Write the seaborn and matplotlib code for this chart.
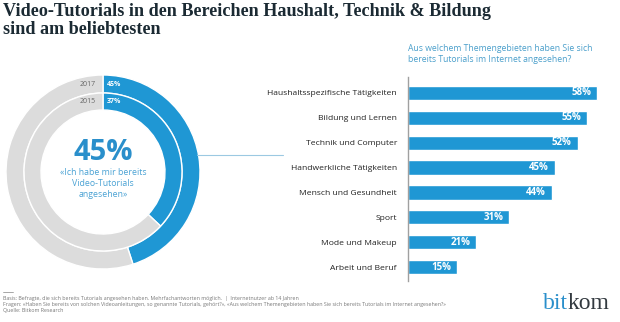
import matplotlib
matplotlib.use("Agg")
import matplotlib.pyplot as plt
import seaborn as sns
import pandas as pd
from matplotlib.lines import Line2D

sns.set_theme(style="white")
plt.rcParams['font.family'] = ['Open Sans', 'DejaVu Sans']

# ---- data ----
categories = ["Haushaltsspezifische Tätigkeiten", "Bildung und Lernen", "Technik und Computer",
              "Handwerkliche Tätigkeiten", "Mensch und Gesundheit", "Sport",
              "Mode und Makeup", "Arbeit und Beruf"]
values = [58, 55, 52, 45, 44, 31, 21, 15]
ring_years = ["2017", "2015"]
ring_values = [45, 37]
center_value = "45%"
center_text = "«Ich habe mir bereits\nVideo-Tutorials\nangesehen»"
title = "Video-Tutorials in den Bereichen Haushalt, Technik & Bildung\nsind am beliebtesten"
question = "Aus welchem Themengebieten haben Sie sich\nbereits Tutorials im Internet angesehen?"
footer = ("Basis: Befragte, die sich bereits Tutorials angesehen haben. Mehrfachantworten möglich.  |  Internetnutzer ab 14 Jahren\n"
          "Fragen: «Haben Sie bereits von solchen Videoanleitungen, so genannte Tutorials, gehört?», «Aus welchem Themengebieten haben Sie sich bereits Tutorials im Internet angesehen?»\n"
          "Quelle: Bitkom Research")

BLUE = "#1f97d4"
GREY = "#dcdcdc"
W, H = 620, 322

fig = plt.figure(figsize=(W / 100, H / 100), dpi=100)
fig.patch.set_facecolor("white")

def fx(px):
    return px / W

def fy(py):
    return 1 - py / H

# ---- title ----
fig.text(fx(3), fy(3), title, ha="left", va="top", fontsize=13.1, fontweight="bold",
         family="Liberation Serif", color="#1b2a33", linespacing=1.05)

# ---- donut ----
cx, cy, R = 103, 172, 97
ax_d = fig.add_axes([fx(cx - 100), fy(cy + 100), 200 / W, 200 / H])
radii = [1.0, 79 / R]
widths = [18 / R, 17 / R]
for r, w, v in zip(radii, widths, ring_values):
    ax_d.pie([v, 100 - v], radius=r, startangle=90, counterclock=False,
             colors=[BLUE, GREY], wedgeprops=dict(width=w, edgecolor="white", linewidth=1.0))
ax_d.set_xlim(-100 / R, 100 / R)
ax_d.set_ylim(-100 / R, 100 / R)
ax_d.set_aspect("equal")
ax_d.axis("off")
for yr, v, r, w in zip(ring_years, ring_values, radii, widths):
    ymid = r - w / 2
    ax_d.text(-0.07, ymid, yr, ha="right", va="center", fontsize=5, color="#666666")
    ax_d.text(0.04, ymid, f"{v}%", ha="left", va="center", fontsize=5, color="white", fontweight="bold")
ax_d.text(0, 0.2, center_value, ha="center", va="center", fontsize=21, color="#2a8fcb", fontweight="bold")
ax_d.text(0, -0.12, center_text, ha="center", va="center", fontsize=6.3, color="#4aa2d4", linespacing=1.3)

# connector line
fig.add_artist(Line2D([fx(197), fx(283)], [fy(155), fy(155)], color="#9cc9e2", lw=0.8))

# ---- question ----
fig.text(fx(408), fy(44), question, ha="left", va="top", fontsize=6.2, color="#4a9fcb", linespacing=1.35)

# ---- bars ----
top_px, bot_px = 76.8, 280.7
ax_b = fig.add_axes([fx(408), fy(bot_px), (W - 408) / W, (bot_px - top_px) / H])
df = pd.DataFrame({"Kategorie": categories, "Wert": values})
sns.barplot(data=df, x="Wert", y="Kategorie", ax=ax_b, color=BLUE, saturation=1, width=0.57, orient="h")
ax_b.set_xlim(0, 65)
ax_b.set_ylim(7.55, -0.65)
ax_b.set_xlabel("")
ax_b.set_ylabel("")
ax_b.set_xticks([])
ax_b.tick_params(axis="y", length=0, pad=8, labelsize=6.1, labelcolor="#222222")
for s in ["top", "right", "bottom"]:
    ax_b.spines[s].set_visible(False)
ax_b.spines["left"].set_color("#a0a0a0")
ax_b.spines["left"].set_linewidth(1.0)
ax_b.set_facecolor("none")
for i, v in enumerate(values):
    ax_b.text(v - 1.8, i, f"{v}%", ha="right", va="center", fontsize=7, color="white", fontweight="bold")

# ---- footer ----
fig.add_artist(Line2D([fx(3), fx(13)], [fy(292), fy(292)], color="#999999", lw=0.6))
fig.text(fx(3), fy(296), footer, ha="left", va="top", fontsize=3.8, color="#777777", linespacing=1.2)

# logo
t_bit = fig.text(fx(543), fy(314), "bit", ha="left", va="bottom", fontsize=17,
                 family="Liberation Serif", color="#2a8fcb")
fig.canvas.draw()
bb = t_bit.get_window_extent()
fig.text(bb.x1 / (W), fy(314), "kom", ha="left", va="bottom", fontsize=17,
         family="Liberation Serif", color="#333a40")

fig.savefig("out.png", dpi=100)
